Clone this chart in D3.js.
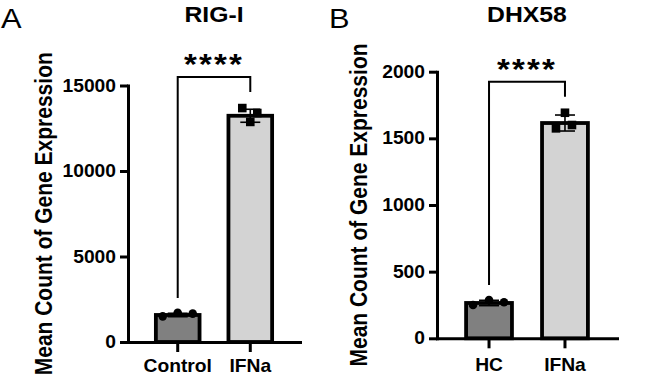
<!DOCTYPE html>
<html>
<head>
<meta charset="utf-8">
<script src="https://cdn.jsdelivr.net/npm/d3@7"></script>
<style>
  body { margin: 0; background: #fff; }
  svg { display: block; font-family: "Liberation Sans", Arial, sans-serif; }
  .axis path, .axis line { stroke: #000; stroke-width: 3; }
  .axis text { font-size: 17.5px; font-weight: bold; fill: #000; }
</style>
</head>
<body>
<svg id="chart" width="645" height="376"></svg>
<script>
// panel A - RIG-I
const rigGroups = ["Control", "IFNa"];
const rigMeans = [1580, 13230];
const rigSd = [100, 380];
const rigPoints = [[1500, 1710, 1660], [13680, 13390, 12870]];
const rigTicks = [0, 5000, 10000, 15000];
const rigBracket = [15500, 2570, 14620]; // top, left end, right end

// panel B - DHX58
const dhxGroups = ["HC", "IFNa"];
const dhxMeans = [265, 1615];
const dhxSd = [20, 60];
const dhxPoints = [[250, 287, 270], [1692, 1575, 1600]];
const dhxTicks = [0, 500, 1000, 1500, 2000];
const dhxBracket = [1924, 400, 1812];

const fills = ["#808080", "#d3d3d3"];
const sx = 1.1; // text in the figure is a bit wide

let svg = d3.select("#chart");

function stretched(sel, x, y) {
  return sel.attr("transform", `translate(${x},${y}) scale(${sx},1)`);
}

function draw_panel(p) {
  let g = svg.append("g");
  let y = d3.scaleLinear().domain([0, p.ticks[p.ticks.length - 1]]).range([p.bottom, p.top]);
  let x = d3.scaleBand().domain(p.groups).range([p.left, p.right])
    .paddingInner(0.35).paddingOuter(0.36);
  let mid = i => x(p.groups[i]) + x.bandwidth() / 2;

  // bars
  g.selectAll("rect.bar")
    .data(p.means).join("rect")
    .attr("class", "bar")
    .attr("x", (d, i) => x(p.groups[i]) + 1.75)
    .attr("width", x.bandwidth() - 3.5)
    .attr("y", d => y(d))
    .attr("height", d => p.bottom - y(d))
    .attr("fill", (d, i) => fills[i])
    .attr("stroke", "#000")
    .attr("stroke-width", 3.8);

  // error bars (mean +/- sd)
  p.means.forEach((m, i) => {
    let cx = mid(i);
    let eg = g.append("g").attr("stroke", "#000").attr("stroke-width", 1.6);
    eg.append("line").attr("x1", cx).attr("x2", cx).attr("y1", y(m + p.sd[i])).attr("y2", y(m - p.sd[i]));
    [m + p.sd[i], m - p.sd[i]].forEach(v => {
      eg.append("line").attr("x1", cx - 10).attr("x2", cx + 10).attr("y1", y(v)).attr("y2", y(v));
    });
  });

  // individual points
  p.points.forEach((pts, i) => {
    pts.forEach((v, k) => {
      let px = mid(i) + p.jitter[i][k];
      if (i == 0) {
        g.append("circle").attr("cx", px).attr("cy", y(v)).attr("r", 4.3).attr("fill", "#000");
      } else {
        g.append("rect").attr("x", px - 4.3).attr("y", y(v) - 4.3)
          .attr("width", 8.6).attr("height", 8.6).attr("fill", "#000");
      }
    });
  });

  // axes
  let ya = g.append("g").attr("class", "axis")
    .attr("transform", `translate(${p.left},0)`)
    .call(d3.axisLeft(y).tickValues(p.ticks).tickSize(8).tickSizeOuter(0).tickFormat(d3.format("d")));
  ya.selectAll("text").attr("x", -12 / sx).attr("transform", `scale(${sx},1)`);

  let xa = g.append("g").attr("class", "axis")
    .attr("transform", `translate(0,${p.bottom})`)
    .call(d3.axisBottom(x).tickSize(10).tickSizeOuter(0).tickPadding(p.xpad));
  xa.selectAll("text").attr("transform", `scale(${sx},1)`);
  g.selectAll(".axis .domain").attr("stroke-linecap", "square");

  // significance bracket
  let c0 = mid(0), c1 = mid(1);
  g.append("path")
    .attr("d", `M${c0},${y(p.bracket[1])}V${y(p.bracket[0])}H${c1}V${y(p.bracket[2])}`)
    .attr("fill", "none").attr("stroke", "#000").attr("stroke-width", 2);
  stretched(g.append("text"), (c0 + c1) / 2, y(p.bracket[0]) - 3)
    .attr("text-anchor", "middle")
    .style("font-size", "30px").style("font-weight", "bold")
    .style("letter-spacing", "2px")
    .text("****");

  // title, y label, panel letter
  stretched(g.append("text"), (p.left + p.right) / 2, 22)
    .attr("text-anchor", "middle")
    .style("font-size", "22.5px").style("font-weight", "bold")
    .text(p.title);
  g.append("text")
    .attr("transform", `translate(${p.ylabX},${(p.top + p.bottom) / 2}) scale(${sx},1) rotate(-90)`)
    .attr("text-anchor", "middle")
    .style("font-size", "21px").style("font-weight", "bold")
    .text("Mean Count of Gene Expression");
  stretched(g.append("text"), p.letterX, 28)
    .style("font-size", "28px")
    .text(p.letter);
}

draw_panel({
  groups: rigGroups, means: rigMeans, sd: rigSd, points: rigPoints, ticks: rigTicks, bracket: rigBracket,
  title: "RIG-I", letter: "A", letterX: 1,
  left: 128, right: 300, top: 85.5, bottom: 342, ylabX: 52, xpad: 8,
  jitter: [[-15, 0, 15], [-8, 7, 0]]
});

draw_panel({
  groups: dhxGroups, means: dhxMeans, sd: dhxSd, points: dhxPoints, ticks: dhxTicks, bracket: dhxBracket,
  title: "DHX58", letter: "B", letterX: 329,
  left: 437, right: 617, top: 71.7, bottom: 338.3, ylabX: 367, xpad: 10,
  jitter: [[-16, 0, 15], [0, -9, 7]]
});
</script>
</body>
</html>
